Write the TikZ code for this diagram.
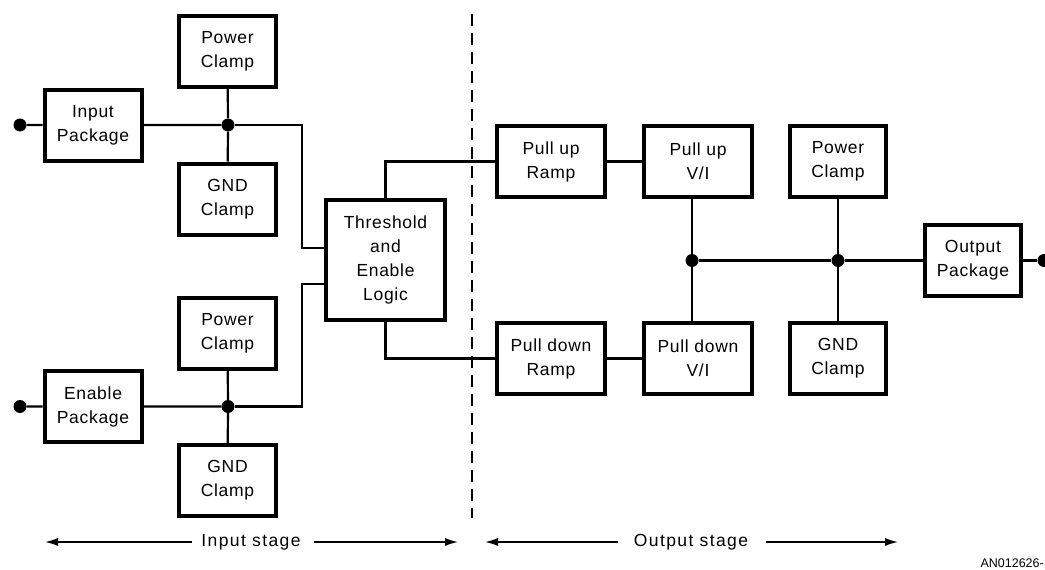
\documentclass[tikz,border=0pt]{standalone}
\usepackage{fontspec}
\setmainfont[LetterSpace=4]{Liberation Sans}
\newfontfamily\stagefont[LetterSpace=8]{Liberation Sans}
\newfontfamily\plainfont{Liberation Sans}
\usetikzlibrary{arrows.meta,positioning,calc}

\begin{document}
\begin{tikzpicture}[x=1pt,y=-1pt,font=\fontsize{17.5}{24}\selectfont,
    blk/.style={draw,line width=4pt,align=center,minimum width=97pt,minimum height=71pt,inner sep=2pt},
    wire/.style={line width=2.2pt},
    jdot/.style={circle,fill,inner sep=0pt,minimum size=13pt},
    stagearrow/.style={line width=1.4pt,-{Latex[length=13pt,width=8pt]}}]
  \useasboundingbox (0,0) rectangle (1045,570);
  % input side
  \foreach \n/\y/\t in {A/125/Input,B/406.5/Enable}{
    \node[blk] (pkg\n) at (93,\y) {\t\\Package};
    \node[jdot] (pin\n) at (20,\y) {};
    \node[jdot] (j\n) at (228,\y) {};
    \node[blk] (pwr\n) at (227.5,\y-73.5) {Power\\Clamp};
    \node[blk] (gnd\n) at (227.5,\y+74) {GND\\Clamp};
    \draw[wire] (pin\n) -- (pkg\n.west) (pkg\n.east) -- (j\n) (pwr\n) -- (j\n) -- (gnd\n);
  }
  \node[blk,minimum width=119pt,minimum height=120pt] (logic) at (385.5,260) {Threshold\\and\\Enable\\Logic};
  \coordinate (kA) at (302,125); \coordinate (kB) at (302,406.5);
  \coordinate (la) at (324,248); \coordinate (lb) at (324,284);
  \draw[wire] (jA) -- (kA) |- (la) (jB) -- (kB) |- (lb);
  % output side
  \node[blk,minimum width=108pt] (upramp) at (551,161.5) {Pull up\\Ramp};
  \node[blk,minimum width=108pt] (upvi) at (698,161.5) {Pull up\\V/I};
  \node[blk,minimum width=108pt] (dnramp) at (551,358.5) {Pull down\\Ramp};
  \node[blk,minimum width=108pt] (dnvi) at (698,358.5) {Pull down\\V/I};
  \node[blk,minimum width=96pt] (pwrC) at (838,161.5) {Power\\Clamp};
  \node[blk,minimum width=96pt] (gndC) at (838,358.5) {GND\\Clamp};
  \node[blk,minimum width=96pt] (outpkg) at (973,260.5) {Output\\Package};
  \node[jdot] (jC) at (692,260.5) {};
  \node[jdot] (jD) at (838,260.5) {};
  \node[jdot] (pout) at (1044,260.5) {};
  \draw[wire] (logic.north) |- (upramp.west) (logic.south) |- (dnramp.west);
  \draw[wire] (upramp) -- (upvi) (dnramp) -- (dnvi);
  \draw[wire] (upvi.south -| jC) -- (jC) -- (dnvi.north -| jC);
  \draw[wire] (jC) -- (jD) -- (outpkg.west) (outpkg.east) -- (pout) (pwrC) -- (jD) -- (gndC);
  % stage divider and labels
  \coordinate (dtop) at (472,14); \coordinate (dbot) at (472,518);
  \draw[line width=2pt,dash pattern=on 12pt off 7pt] (dtop) -- (dbot);
  \node[font=\stagefont\fontsize{17.5}{24}\selectfont] (instg) at (251,542) {Input stage};
  \node[font=\stagefont\fontsize{17.5}{24}\selectfont] (outstg) at (691,542) {Output stage};
  \coordinate (inL) at (45,542); \coordinate (inR) at (458,542);
  \coordinate (outL) at (485,542); \coordinate (outR) at (898,542);
  \draw[stagearrow] ([xshift=-6pt]instg.west) -- (inL);
  \draw[stagearrow] ([xshift=10pt]instg.east) -- (inR);
  \draw[stagearrow] ([xshift=-12pt]outstg.west) -- (outL);
  \draw[stagearrow] ([xshift=14pt]outstg.east) -- (outR);
  \node[anchor=east,inner sep=1pt,font=\plainfont\fontsize{12.5}{13}\selectfont] (fig) at (1045,563) {AN012626-};
\end{tikzpicture}
\end{document}
